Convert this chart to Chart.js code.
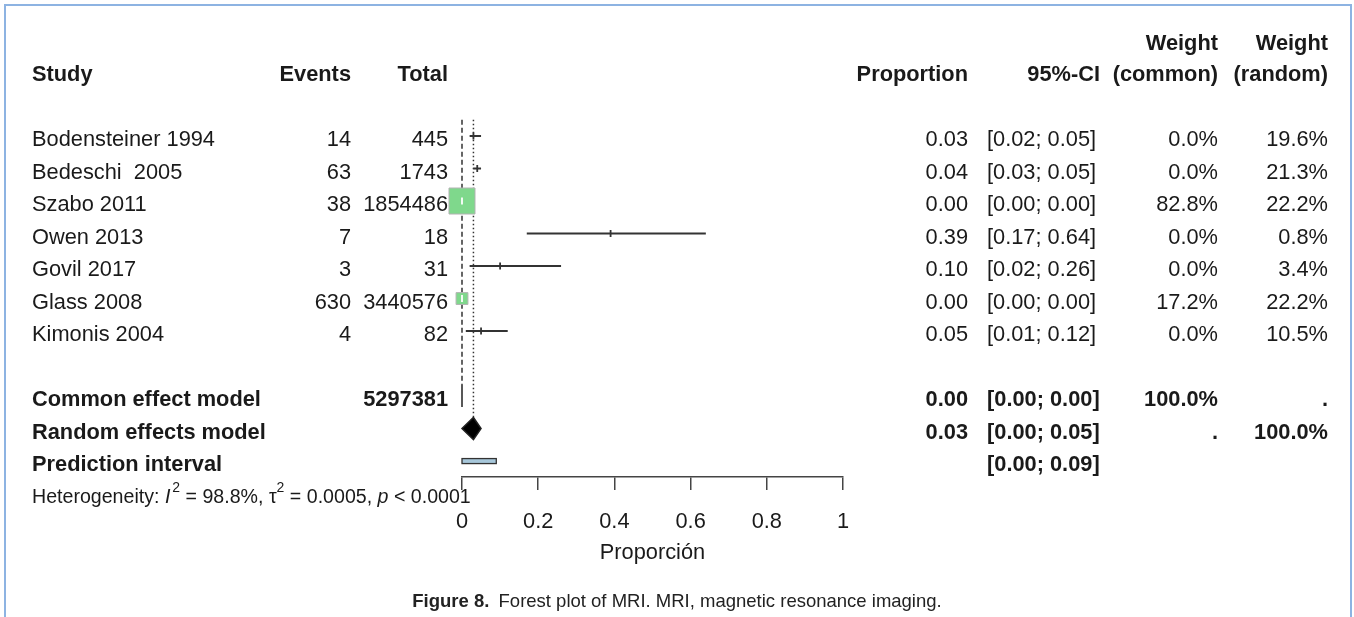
<!DOCTYPE html>
<html lang="en">
<head>
  <meta charset="UTF-8" />
  <title>Forest plot of MRI</title>
  <script src="https://cdn.jsdelivr.net/npm/chart.js"></script>
  <style>
    html, body { margin: 0; padding: 0; background: #fff; }
    #wrap { position: relative; width: 1354px; height: 617px; overflow: hidden; }
    #frame {
      position: absolute; left: 4px; top: 4px; width: 1344px; height: 640px;
      border: 2px solid #8db3e2; pointer-events: none;
    }
    #plot { position: absolute; left: 0; top: 0; }
    #caption {
      position: absolute; left: 0; width: 1354px; top: 590px; text-align: center;
      font-family: "Liberation Sans Narrow", "Arial Narrow", "Liberation Sans", sans-serif;
      font-size: 18.5px; color: #222;
    }
    #caption b { font-weight: bold; margin-right: 4px; }
  </style>
</head>
<body>
  <div id="wrap">
    <canvas id="plot" width="1354" height="617"></canvas>
    <div id="frame"></div>
    <div id="caption"><b>Figure 8.</b> Forest plot of MRI. MRI, magnetic resonance imaging.</div>
  </div>

  <script>
    const studies = ['Bodensteiner 1994', 'Bedeschi  2005', 'Szabo 2011', 'Owen 2013', 'Govil 2017', 'Glass 2008', 'Kimonis 2004'];
    const events = [14, 63, 38, 7, 3, 630, 4];
    const totals = [445, 1743, 1854486, 18, 31, 3440576, 82];
    const proportion = [0.03, 0.04, 0.00, 0.39, 0.10, 0.00, 0.05];
    const ciLower = [0.02, 0.03, 0.00, 0.17, 0.02, 0.00, 0.01];
    const ciUpper = [0.05, 0.05, 0.00, 0.64, 0.26, 0.00, 0.12];
    const weightCommon = [0.0, 0.0, 82.8, 0.0, 0.0, 17.2, 0.0];
    const weightRandom = [19.6, 21.3, 22.2, 0.8, 3.4, 22.2, 10.5];

    // pooled estimates: [estimate, lower, upper]
    const commonModel = [0.00, 0.00, 0.00];
    const randomModel = [0.03, 0.00, 0.05];
    const predInterval = [0.00, 0.09];
    const commonTotal = 5297381;

    const xTicks = [0, 0.2, 0.4, 0.6, 0.8, 1];

    // row positions on the y scale
    const ROW_COMMON = 8, ROW_RANDOM = 9, ROW_PRED = 10, ROW_HET = 11;

    const FONT = '"Liberation Sans", Arial, sans-serif';
    const TXT = '#1a1a1a';

    const pct = v => v.toFixed(1) + '%';
    const ci = (lo, hi) => '[' + lo.toFixed(2) + '; ' + hi.toFixed(2) + ']';

    // square side grows with sqrt of the common-effect weight
    const boxRadius = w => w > 0 ? 2.86 * Math.sqrt(w) / Math.SQRT2 : 0;

    const boxData = proportion.map((p, i) => ({ x: p, y: i }));
    const ciSets = studies.map((s, i) => ({
      data: [{ x: ciLower[i], y: i }, { x: ciUpper[i], y: i }],
      showLine: true,
      borderColor: '#333',
      borderWidth: 2,
      pointRadius: 0,
      clip: false,
      order: 2
    }));

    const tableText = {
      id: 'tableText',
      afterDraw(chart) {
        const ctx = chart.ctx;
        const y = chart.scales.y;
        const rowY = r => y.getPixelForValue(r) + 4;
        ctx.save();
        ctx.fillStyle = TXT;
        ctx.textBaseline = 'middle';

        const putAt = (txt, x, py, align, bold) => {
          ctx.font = (bold ? 'bold ' : '') + '21.8px ' + FONT;
          ctx.textAlign = align;
          ctx.fillText(txt, x, py);
        };
        const put = (txt, x, r, align, bold) => putAt(txt, x, rowY(r), align, bold);

        // headers
        const h1 = 44, h2 = 75;
        putAt('Study', 32, h2, 'left', true);
        putAt('Events', 351, h2, 'right', true);
        putAt('Total', 448, h2, 'right', true);
        putAt('Proportion', 968, h2, 'right', true);
        putAt('95%-CI', 1100, h2, 'right', true);
        putAt('Weight', 1218, h1, 'right', true);
        putAt('(common)', 1218, h2, 'right', true);
        putAt('Weight', 1328, h1, 'right', true);
        putAt('(random)', 1328, h2, 'right', true);

        studies.forEach((s, i) => {
          put(s, 32, i, 'left', false);
          put(String(events[i]), 351, i, 'right', false);
          put(String(totals[i]), 448, i, 'right', false);
          put(proportion[i].toFixed(2), 968, i, 'right', false);
          put(ci(ciLower[i], ciUpper[i]), 987, i, 'left', false);
          put(pct(weightCommon[i]), 1218, i, 'right', false);
          put(pct(weightRandom[i]), 1328, i, 'right', false);
        });

        put('Common effect model', 32, ROW_COMMON, 'left', true);
        put(String(commonTotal), 448, ROW_COMMON, 'right', true);
        put(commonModel[0].toFixed(2), 968, ROW_COMMON, 'right', true);
        put(ci(commonModel[1], commonModel[2]), 987, ROW_COMMON, 'left', true);
        put('100.0%', 1218, ROW_COMMON, 'right', true);
        put('.', 1328, ROW_COMMON, 'right', true);

        put('Random effects model', 32, ROW_RANDOM, 'left', true);
        put(randomModel[0].toFixed(2), 968, ROW_RANDOM, 'right', true);
        put(ci(randomModel[1], randomModel[2]), 987, ROW_RANDOM, 'left', true);
        put('.', 1218, ROW_RANDOM, 'right', true);
        put('100.0%', 1328, ROW_RANDOM, 'right', true);

        put('Prediction interval', 32, ROW_PRED, 'left', true);
        put(ci(predInterval[0], predInterval[1]), 987, ROW_PRED, 'left', true);

        // heterogeneity line with italics and superscripts
        const hy = rowY(ROW_HET);
        let hx = 32;
        const seg = (t, style, dy, size) => {
          ctx.font = (style || '') + ' ' + (size || 19.6) + 'px ' + FONT;
          ctx.textAlign = 'left';
          ctx.fillText(t, hx, hy + (dy || 0));
          hx += ctx.measureText(t).width;
        };
        seg('Heterogeneity: ');
        seg('I', 'italic');
        hx += 2;
        seg('2', '', -9, 14);
        seg(' = 98.8%, τ');
        seg('2', '', -9, 14);
        seg(' = 0.0005, ');
        seg('p', 'italic');
        seg(' < 0.0001');
        ctx.restore();
      }
    };

    const pooledMarks = {
      id: 'pooledMarks',
      beforeDatasetsDraw(chart) {
        const { ctx, scales: { x, y } } = chart;
        const top = y.getPixelForValue(-0.5);
        const half = 0.34;
        ctx.save();
        ctx.strokeStyle = '#333';
        ctx.lineWidth = 1.5;
        // common effect reference (dashed)
        ctx.setLineDash([5, 3]);
        ctx.beginPath();
        ctx.moveTo(x.getPixelForValue(commonModel[0]), top);
        ctx.lineTo(x.getPixelForValue(commonModel[0]), y.getPixelForValue(ROW_COMMON - half));
        ctx.stroke();
        // random effects reference (dotted)
        ctx.setLineDash([1.5, 2.5]);
        ctx.beginPath();
        ctx.moveTo(x.getPixelForValue(randomModel[0]), top);
        ctx.lineTo(x.getPixelForValue(randomModel[0]), y.getPixelForValue(ROW_RANDOM - half));
        ctx.stroke();
        ctx.restore();
      },
      afterDatasetsDraw(chart) {
        const { ctx, scales: { x, y } } = chart;
        const half = 0.34;
        const diamond = (m, row) => {
          const cy = y.getPixelForValue(row);
          const t = y.getPixelForValue(row - half), b = y.getPixelForValue(row + half);
          ctx.beginPath();
          ctx.moveTo(x.getPixelForValue(m[1]), cy);
          ctx.lineTo(x.getPixelForValue(m[0]), t);
          ctx.lineTo(x.getPixelForValue(m[2]), cy);
          ctx.lineTo(x.getPixelForValue(m[0]), b);
          ctx.closePath();
          ctx.fill();
          ctx.stroke();
        };
        ctx.save();
        ctx.fillStyle = '#000';
        ctx.strokeStyle = '#222';
        ctx.lineWidth = 1.5;
        diamond(commonModel, ROW_COMMON);
        diamond(randomModel, ROW_RANDOM);

        // prediction interval bar
        const py = y.getPixelForValue(ROW_PRED) - 2.5;
        const x0 = x.getPixelForValue(predInterval[0]);
        const x1 = x.getPixelForValue(predInterval[1]);
        ctx.fillStyle = '#a7c7da';
        ctx.strokeStyle = '#333';
        ctx.lineWidth = 1.3;
        ctx.fillRect(x0, py, x1 - x0, 5);
        ctx.strokeRect(x0, py, x1 - x0, 5);
        ctx.restore();
      }
    };

    new Chart(document.getElementById('plot'), {
      type: 'scatter',
      data: {
        datasets: [
          {
            data: boxData,
            pointStyle: 'line',
            rotation: 90,
            pointRadius: 3.5,
            borderWidth: 1.8,
            borderColor: weightCommon.map(w => w > 0 ? '#fff' : '#333'),
            clip: false,
            order: 1
          },
          ...ciSets,
          {
            data: boxData,
            pointStyle: 'rect',
            pointRadius: weightCommon.map(boxRadius),
            backgroundColor: '#7fd88c',
            borderColor: '#b3b3b3',
            borderWidth: 1,
            clip: false,
            order: 3
          }
        ]
      },
      options: {
        responsive: false,
        animation: false,
        events: [],
        layout: { padding: { left: 462, right: 511, top: 115, bottom: 51 } },
        plugins: { legend: { display: false }, tooltip: { enabled: false } },
        scales: {
          x: {
            type: 'linear',
            min: 0,
            max: 1,
            afterBuildTicks: s => { s.ticks = xTicks.map(v => ({ value: v })); },
            grid: { drawOnChartArea: false, tickLength: 13, color: '#444', lineWidth: 1.5 },
            border: { display: true, color: '#444', width: 1.5 },
            ticks: {
              padding: 19,
              color: TXT,
              font: { family: FONT, size: 21.8 },
              callback: v => String(Number(v.toFixed(2)))
            },
            title: { display: true, text: 'Proporción', color: TXT, padding: 0, font: { family: FONT, size: 21.8 } },
            afterFit: s => { s.height = 89; }
          },
          y: {
            display: false,
            type: 'linear',
            reverse: true,
            min: -0.646,
            max: 10.49
          }
        }
      },
      plugins: [pooledMarks, tableText]
    });
  </script>
</body>
</html>
